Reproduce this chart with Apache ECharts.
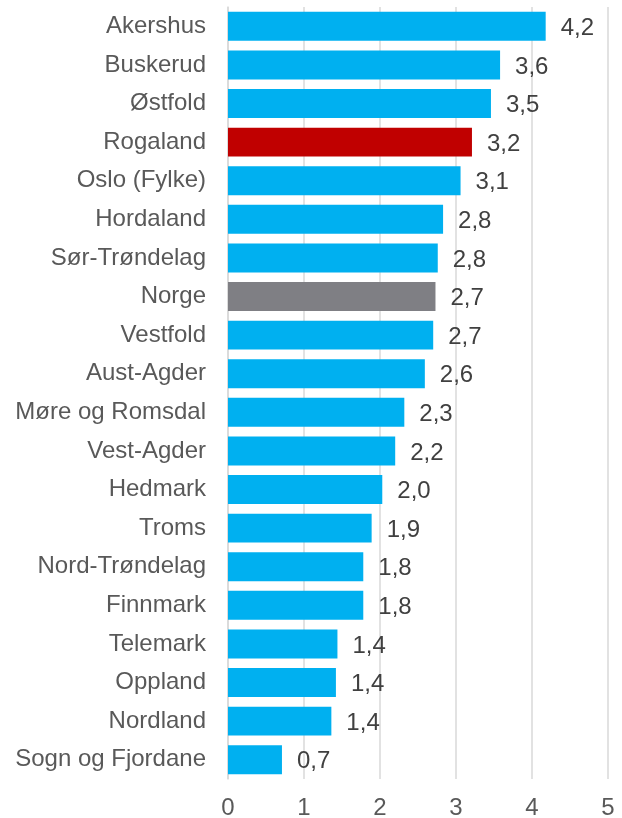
<!DOCTYPE html>
<html>
<head>
<meta charset="utf-8">
<script src="https://cdn.jsdelivr.net/npm/echarts@6/dist/echarts.min.js"></script>
<style>html,body{margin:0;padding:0;background:#fff}#c{width:622px;height:818px}</style>
</head>
<body>
<div id="c"></div>
<script>
const categories = ["Akershus","Buskerud","Østfold","Rogaland","Oslo (Fylke)","Hordaland","Sør-Trøndelag","Norge","Vestfold","Aust-Agder","Møre og Romsdal","Vest-Agder","Hedmark","Troms","Nord-Trøndelag","Finnmark","Telemark","Oppland","Nordland","Sogn og Fjordane"];
const values = [4.18,3.58,3.46,3.21,3.06,2.83,2.76,2.73,2.70,2.59,2.32,2.20,2.03,1.89,1.78,1.78,1.44,1.42,1.36,0.71];
const xTicks = [0,1,2,3,4,5];
const highlight = {"Rogaland":"#C00000","Norge":"#7F7F84"};
const baseColor = "#00B0F0";

const chart = echarts.init(document.getElementById('c'), null, {renderer:'canvas'});
chart.setOption({
  animation:false,
  grid:{left:228, right:14, top:7, bottom:39, containLabel:false, outerBoundsMode:'none'},
  xAxis:{type:'value', min:xTicks[0], max:xTicks[xTicks.length-1], interval:1,
    axisLine:{show:false}, axisTick:{show:false},
    splitLine:{lineStyle:{color:'#D9D9D9', width:1.5}},
    axisLabel:{color:'#595959', fontSize:24, fontFamily:'Liberation Sans, Arial', margin:17}},
  yAxis:{type:'category', data:categories, inverse:true,
    axisLine:{show:true, lineStyle:{color:'#D9D9D9', width:1.5}}, axisTick:{show:false},
    axisLabel:{color:'#595959', fontSize:24, fontFamily:'Liberation Sans, Arial', margin:22}},
  series:[{type:'bar', barCategoryGap:'25%',
    data:values.map((v,i)=>({value:v, itemStyle:{color:highlight[categories[i]]||baseColor}})),
    label:{show:true, position:'right', distance:15, offset:[0,2], color:'#404040', fontSize:24, fontFamily:'Liberation Sans, Arial',
      formatter:p=>p.value.toFixed(1).replace('.',',')}}]
});
</script>
</body>
</html>
